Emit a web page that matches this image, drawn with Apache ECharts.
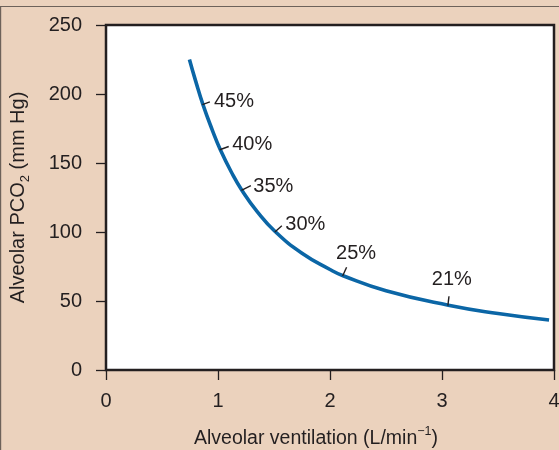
<!DOCTYPE html>
<html>
<head>
<meta charset="utf-8">
<script src="https://cdn.jsdelivr.net/npm/echarts@6/dist/echarts.min.js"></script>
<style>
html,body{margin:0;padding:0;background:#ebd2bd;}
#chart{width:559px;height:450px;}
</style>
</head>
<body>
<div id="chart"></div>
<script>
// Alveolar ventilation (L/min) vs alveolar PCO2 (mm Hg)
var ventilation = [0.745, 0.80, 0.865, 0.95, 1.020, 1.12, 1.213, 1.35, 1.512, 1.75, 2.0, 2.117, 2.5, 3.057, 3.5, 3.956];
var pco2        = [225,   209.5, 192.5, 173.7, 159.8, 143.3, 130.3, 114.8, 100.2, 84.6, 72.8, 68.3, 57.4, 46.9, 40.9, 36.2];

// Inspired O2 annotations along the curve
var markLabels = ['45%', '40%', '35%', '30%', '25%', '21%'];
var markX      = [0.865, 1.020, 1.213, 1.512, 2.117, 3.057];
var markY      = [192.5, 159.8, 130.3, 100.2, 68.3, 46.9];

var xTicks = [0, 1, 2, 3, 4];
var yTicks = [0, 50, 100, 150, 200, 250];

// drawing offsets for the annotation ticks / text (style only)
var markStyle = [
  {tx: 7, ty: -2.5, lx: 11, ly: -3, align: 'left'},
  {tx: 8.5, ty: -3, lx: 12, ly: -5, align: 'left'},
  {tx: 9, ty: -4.5, lx: 11.5, ly: -4, align: 'left'},
  {tx: 6.5, ty: -6, lx: 10, ly: -7.5, align: 'left'},
  {tx: 3.5, ty: -8.5, lx: 13, ly: -22, align: 'center'},
  {tx: 0.6, ty: -9, lx: 3.5, ly: -26, align: 'center'}
];

var TXT = '#231f20';
var FONT = 'Liberation Sans, Arial, sans-serif';

var chart = echarts.init(document.getElementById('chart'));
var curve = ventilation.map(function (v, i) { return [v, pco2[i]]; });
var marks = markLabels.map(function (t, i) { return [markX[i], markY[i], t]; });

chart.setOption({
  backgroundColor: '#ebd2bd',
  animation: false,
  textStyle: {fontFamily: FONT, color: TXT},
  graphic: [
    {type: 'line', shape: {x1: 0, y1: 6.5, x2: 559, y2: 6.5}, style: {stroke: '#6d625a', lineWidth: 1.2}, silent: true},
    {type: 'line', shape: {x1: 0.6, y1: 6, x2: 0.6, y2: 450}, style: {stroke: '#6d625a', lineWidth: 1.2}, silent: true}
  ],
  grid: {
    left: 106, right: 5, top: 25, bottom: 80,
    containLabel: false, outerBoundsMode: 'none',
    show: true, backgroundColor: '#ffffff', borderColor: TXT, borderWidth: 2.5
  },
  xAxis: {
    type: 'value', min: 0, max: 4, interval: 1,
    axisLine: {show: false},
    axisTick: {show: true, length: 10, inside: false, lineStyle: {color: TXT, width: 1.3}},
    splitLine: {show: false},
    axisLabel: {
      margin: 21, fontSize: 20, color: TXT, fontFamily: FONT,
      formatter: function (v) { return xTicks.indexOf(v) >= 0 ? String(v) : ''; }
    },
    name: '{n|Alveolar ventilation (L/min}{s|−1}{n|)}',
    nameLocation: 'middle', nameGap: 55,
    nameTextStyle: {
      padding: [0, 28, 0, 0],
      rich: {
        n: {fontSize: 19.5, color: TXT, fontFamily: FONT, verticalAlign: 'bottom', lineHeight: 24},
        s: {fontSize: 12.5, color: TXT, fontFamily: FONT, verticalAlign: 'top', lineHeight: 24}
      }
    }
  },
  yAxis: {
    type: 'value', min: 0, max: 250, interval: 50,
    axisLine: {show: false},
    axisTick: {show: true, length: 10, inside: false, lineStyle: {color: TXT, width: 1.3}},
    splitLine: {show: false},
    axisLabel: {
      margin: 24, fontSize: 20, color: TXT, fontFamily: FONT,
      formatter: function (v) { return yTicks.indexOf(v) >= 0 ? String(v) : ''; }
    },
    name: '{n|Alveolar PCO}{s|2}{n| (mm Hg)}',
    nameLocation: 'middle', nameGap: 74, nameRotate: 90,
    nameTextStyle: {
      rich: {
        n: {fontSize: 20, color: TXT, fontFamily: FONT, verticalAlign: 'top', lineHeight: 24},
        s: {fontSize: 13, color: TXT, fontFamily: FONT, verticalAlign: 'bottom', lineHeight: 24}
      }
    }
  },
  series: [
    {
      type: 'line', data: curve, smooth: 0.5, showSymbol: false, symbol: 'none',
      lineStyle: {color: '#0b66a6', width: 3.6}, z: 3
    },
    {
      type: 'custom', data: marks, z: 4,
      renderItem: function (params, api) {
        var p = api.coord([api.value(0), api.value(1)]);
        var s = markStyle[params.dataIndex];
        return {
          type: 'group',
          children: [
            {type: 'line', shape: {x1: p[0] - 0.5, y1: p[1] + 0.3, x2: p[0] + s.tx, y2: p[1] + s.ty},
             style: {stroke: TXT, lineWidth: 1.4}},
            {type: 'text', x: p[0] + s.lx, y: p[1] + s.ly,
             style: {text: markLabels[params.dataIndex], fontSize: 20, fontFamily: FONT, fill: TXT,
                     align: s.align, verticalAlign: 'middle'}}
          ]
        };
      }
    }
  ]
});
</script>
</body>
</html>
